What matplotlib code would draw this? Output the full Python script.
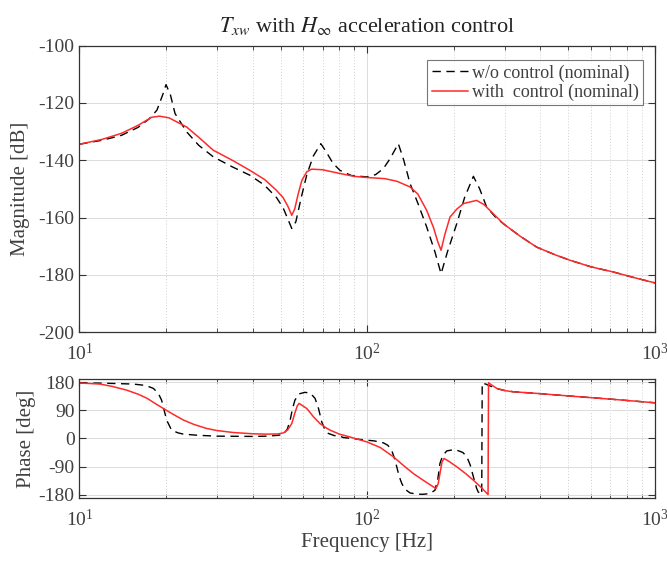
import matplotlib
matplotlib.use("Agg")
import matplotlib.pyplot as plt
from matplotlib.ticker import LogLocator, NullFormatter

plt.rcParams['font.family'] = ['Liberation Serif', 'DejaVu Serif']
plt.rcParams['mathtext.fontset'] = 'stix'
plt.rcParams['axes.unicode_minus'] = False

# magnitude (Hz, dB)
f_mag_nom = [10, 12, 14, 16, 17.5, 18.6, 19.5, 20, 20.7, 21.5, 23.6, 26, 29.2, 34, 39.1, 44,
             48.4, 51, 53, 54.7, 56.5, 59, 61.7, 65, 69, 72, 76, 80.4, 88, 99.6, 107, 113.8,
             120, 128.3, 134, 140.9, 150, 161, 172, 180.6, 190, 204.8, 218, 233.9, 246, 260,
             280, 297, 340, 388, 450, 507, 600, 717, 850, 1000]
mag_nom = [-134.4, -133.0, -131.3, -128.5, -125.5, -122.5, -117, -113.6, -117, -123.7, -130.1,
           -134.8, -138.8, -142.3, -145.2, -148.7, -153, -156.5, -160.5, -163.8, -161.5, -153,
           -145, -138.5, -134.2, -137, -141, -143.5, -145.3, -145.8, -145, -142.9, -139.5,
           -134.2, -140, -148.1, -155, -163.3, -172, -179.6, -172, -162.1, -153, -145.6, -150,
           -156.3, -160, -162.1, -166.5, -170.3, -173, -174.9, -177.2, -179, -181, -182.8]

f_mag_ctl = [10, 12, 14, 16, 17.8, 19, 20.5, 23.6, 26, 29.2, 34, 39.1, 44, 48.4, 51, 53, 54.7,
             56, 57.5, 59.3, 61.7, 64.1, 70, 80.4, 90, 99.6, 115, 126.7, 140.9, 150, 161, 170,
             176, 180.6, 186, 194, 205, 216, 240, 255, 267, 297, 340, 388, 450, 507, 600, 717,
             850, 1000]
mag_ctl = [-134.4, -132.7, -130.6, -127.8, -125, -124.6, -125.2, -128.4, -132, -136.5, -140,
           -143.5, -146.7, -150.5, -153, -156, -159.2, -157, -152, -147, -144, -143.1, -143.3,
           -144.6, -145.6, -146, -146.4, -147.3, -149.3, -151.8, -157.5, -163.5, -168.5, -171.4,
           -166, -159.8, -157, -155.1, -154, -155.5, -157.5, -162.1, -166.5, -170.3, -173,
           -174.9, -177.2, -179, -181, -182.8]

# phase (Hz, deg)
f_ph_nom = [10, 12, 15.4, 17, 18.07, 18.8, 19.3, 20.1, 20.9, 22, 23, 26, 30, 40, 44.8, 49, 51.2,
            52.8, 54, 55, 56.1, 58, 60.8, 63.5, 65.9, 67.8, 69.5, 71.2, 73.3, 77, 80.4, 82.6, 90,
            99.6, 106, 113.8, 118, 121.6, 124, 126.7, 129, 131.9, 135, 140.9, 150, 156.6, 165,
            172, 176, 179, 183, 189, 197, 204.8, 215, 222, 228, 233.9, 240, 243, 250, 251, 258,
            268, 282, 300, 322, 388, 507, 717, 1000]
ph_nom = [178, 177.5, 174.5, 170, 160.7, 145, 123, 59, 27, 18, 13.8, 10, 7.4, 6.5, 7.4, 10, 13.8,
          30, 59, 95, 123, 143, 148, 145, 128.6, 95, 53.4, 30, 16, 9, 7.4, 3, -1, -5.5, -8, -14,
          -22, -37.6, -60, -91, -120, -144.6, -162, -174.9, -179, -179, -177, -166, -130, -80,
          -55, -40, -37, -37.6, -45, -59, -85, -123, -160, -171.6, -179.5, 178, 174.5, 168, 160,
          154, 149.8, 144.6, 136, 125.4, 114.4]

f_ph_ctl = [10, 11.8, 13, 14.6, 16, 17.2, 18.5, 20, 21.5, 23, 25, 27.7, 30, 34.3, 40, 44.8, 49,
            51.2, 53, 54.7, 56, 57.2, 58, 59, 61.7, 65, 68.5, 72, 74.3, 80, 85, 99.6, 111, 123.4,
            133, 144.6, 160, 173.4, 176.5, 179, 182, 185, 192, 204.8, 220, 233.9, 250, 263, 264,
            270, 282, 300, 322, 388, 507, 717, 1000]
ph_ctl = [178, 174.5, 167, 155, 142, 128.6, 110, 91, 74, 59, 45, 32, 25.5, 19, 15, 13.8, 14.5,
          18, 28, 48, 80, 105, 112.5, 108, 96, 70, 48, 34, 26.7, 14, 7.4, -10.8, -29, -59, -85,
          -112.5, -140, -160.7, -145, -112.5, -75, -64.3, -73, -91, -113, -134, -159, -180,
          178.7, 172, 160.7, 153.5, 149.8, 144.6, 136, 125.4, 114.4]

mag_ticks = [-200, -180, -160, -140, -120, -100]
ph_ticks = [-180, -90, 0, 90, 180]

txt = '#404040'
red = '#ff2a2a'

fig = plt.figure(figsize=(6.67, 5.64), dpi=100)
ax1 = fig.add_axes([0.119, 0.411, 0.863, 0.508])
ax2 = fig.add_axes([0.119, 0.1176, 0.863, 0.21])

ax1.semilogx(f_mag_nom, mag_nom, color='k', lw=1.0, dashes=(6, 4), label='w/o control (nominal)')
ax1.semilogx(f_mag_ctl, mag_ctl, color=red, lw=1.1, label='with  control (nominal)')
ax2.semilogx(f_ph_nom, ph_nom, color='k', lw=1.0, dashes=(6, 4))
ax2.semilogx(f_ph_ctl, ph_ctl, color=red, lw=1.1)

ax1.set_ylim(-200, -100)
ax1.set_yticks(mag_ticks)
ax2.set_ylim(-190, 190)
ax2.set_yticks(ph_ticks)

for ax in (ax1, ax2):
    ax.set_xlim(10, 1000)
    ax.xaxis.set_minor_locator(LogLocator(base=10, subs=range(2, 10)))
    ax.xaxis.set_minor_formatter(NullFormatter())
    ax.grid(True, which='major', color='#dcdcdc', lw=0.7, ls='-')
    ax.grid(True, which='minor', axis='x', color='#cfcfcf', lw=0.7, ls=(0, (1, 2)))
    ax.set_axisbelow(True)
    ax.tick_params(which='both', direction='in', top=True, right=True, colors='#333333',
                   labelcolor=txt, labelsize=14)
    ax.tick_params(which='major', length=5, width=0.8)
    ax.tick_params(which='minor', length=3, width=0.6)
    ax.tick_params(axis='x', pad=8)
    for s in ax.spines.values():
        s.set_color('#333333')
        s.set_linewidth(0.9)

ax1.set_ylabel('Magnitude [dB]', color=txt, fontsize=15, labelpad=6)
ax2.set_ylabel('Phase [deg]', color=txt, fontsize=15, labelpad=2)
ax2.set_xlabel('Frequency [Hz]', color=txt, fontsize=15, labelpad=2)
ax1.set_title(r'$T_{xw}$ with $H_{\infty}$ acceleration control', color='#222222',
              fontsize=16, pad=10)

leg = ax1.legend(loc='upper right', bbox_to_anchor=(0.979, 0.95), fontsize=13,
                 frameon=True, fancybox=False, handlelength=2.0, handletextpad=0.2,
                 borderpad=0.25, labelspacing=0.1, borderaxespad=0)
leg.get_frame().set_edgecolor('#555555')
leg.get_frame().set_linewidth(0.8)
for t in leg.get_texts():
    t.set_color(txt)

fig.savefig('out.png', dpi=100)
